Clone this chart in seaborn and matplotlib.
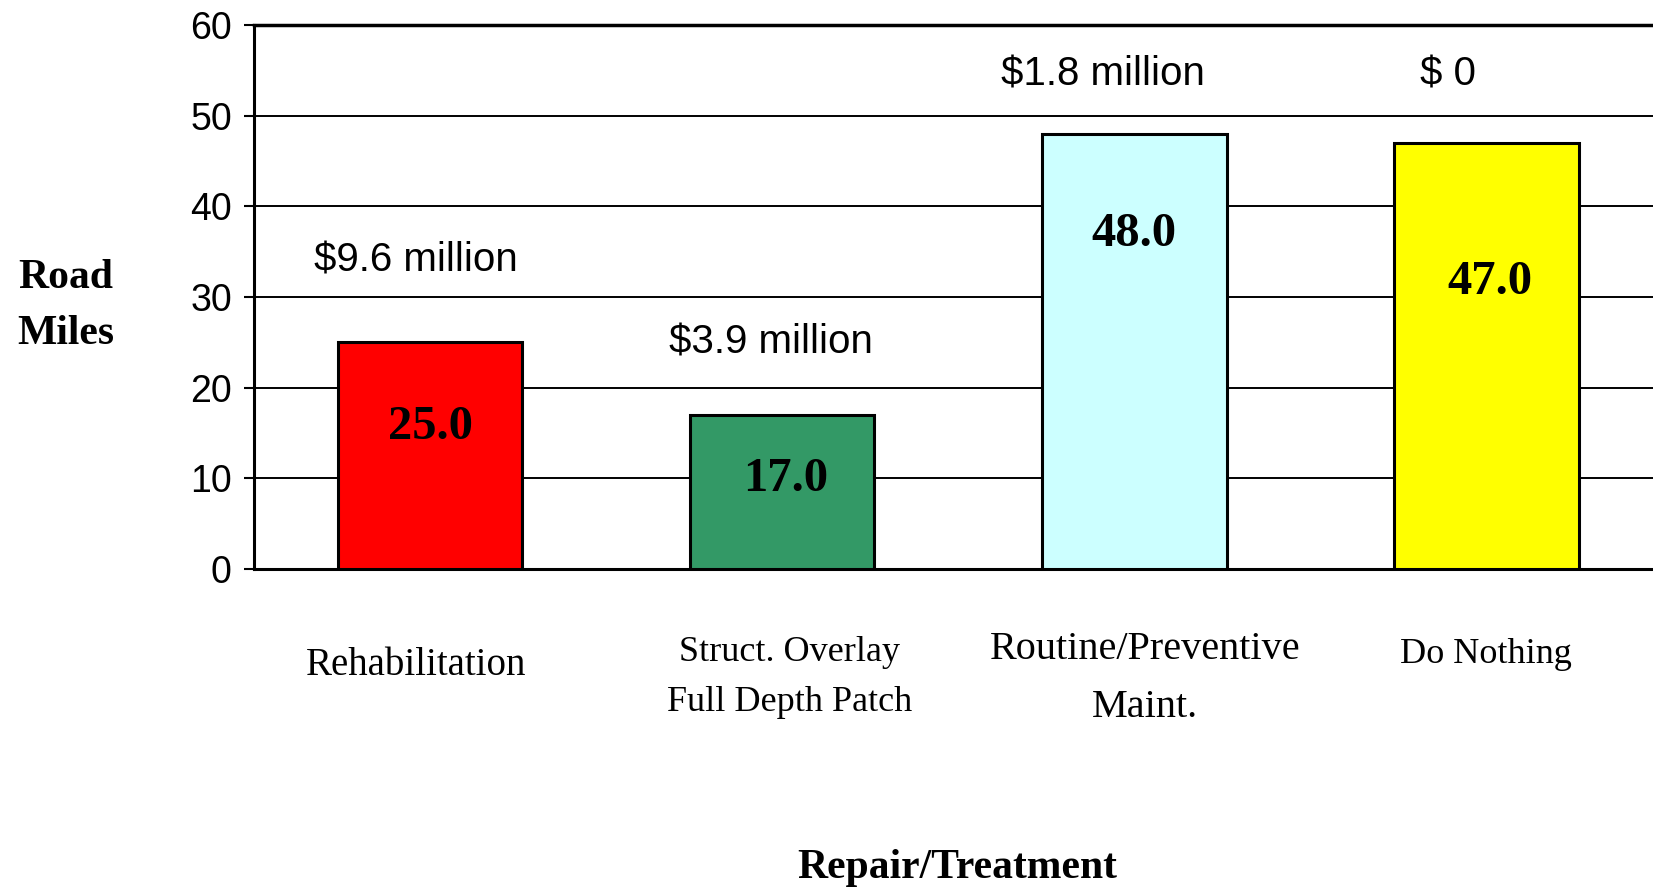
import matplotlib
matplotlib.use("Agg")
import matplotlib.pyplot as plt
import matplotlib.transforms as mtransforms
import seaborn as sns
import pandas as pd

# ---- data ----
categories = ["Rehabilitation", "Struct. Overlay\nFull Depth Patch",
              "Routine/Preventive\nMaint.", "Do Nothing"]
road_miles = [25.0, 17.0, 48.0, 47.0]
costs = ["$9.6 million", "$3.9 million", "$1.8 million", "$ 0"]
y_ticks = [0, 10, 20, 30, 40, 50, 60]
bar_colors = ["#FF0000", "#339966", "#CCFFFF", "#FFFF00"]

# ---- layout (positions / styles only) ----
cost_pos = [(-0.04, 34.0), (0.967, 25.0), (1.91, 54.6), (2.89, 54.6)]
value_pos = [(0.0, 15.7), (1.01, 9.9), (2.0, 37.0), (3.01, 31.7)]
# (x offset from category centre, fig y, fontsize, linespacing)
xlab_layout = [(-0.04, 0.2510, 28, 1.0), (0.02, 0.2370, 26, 1.70),
               (0.03, 0.2360, 29, 1.72), (0.0, 0.2635, 26, 1.0)]

sns.set_theme(style="white")
plt.rcParams['font.family'] = ['Liberation Sans', 'DejaVu Sans']
plt.rcParams['text.color'] = 'black'
plt.rcParams['axes.labelcolor'] = 'black'
plt.rcParams['xtick.color'] = 'black'
plt.rcParams['ytick.color'] = 'black'

df = pd.DataFrame({"cat": categories, "miles": road_miles})

fig = plt.figure(figsize=(16.53, 8.88), dpi=100)
ax = fig.add_axes([0.1537, 0.3592, 0.852, 0.6126])

sns.barplot(data=df, x="cat", y="miles", hue="cat", palette=bar_colors,
            legend=False, width=0.524, edgecolor="black", linewidth=2.2,
            saturation=1, ax=ax, zorder=3)

ax.set_xlim(-0.5, 3.5)
ax.set_ylim(0, 60)
ax.set_yticks(y_ticks)
ax.set_yticklabels([str(t) for t in y_ticks], fontsize=27,
                   family=['Liberation Sans'], color='black')
ax.tick_params(axis='y', which='both', left=True, length=7, width=1.5,
               color='black', pad=9)
ax.tick_params(axis='x', bottom=False, labelbottom=False)
ax.set_xlabel("")
ax.set_ylabel("")

ax.grid(axis='y', color='black', linewidth=1.4, zorder=0)
ax.set_axisbelow(True)
ax.spines['right'].set_visible(False)
ax.spines['top'].set_visible(True)
ax.spines['top'].set_linewidth(2.5)
ax.spines['top'].set_color('black')
ax.spines['left'].set_linewidth(2.2)
ax.spines['left'].set_color('black')
ax.spines['bottom'].set_linewidth(2.2)
ax.spines['bottom'].set_color('black')

# cost labels
for (x, y), c in zip(cost_pos, costs):
    ax.text(x, y, c, ha='center', va='center', fontsize=29,
            family=['Liberation Sans'], color='black', zorder=5)

# value labels
for (x, y), v in zip(value_pos, road_miles):
    ax.text(x, y, f"{v:.1f}", ha='center', va='center', fontsize=35,
            fontweight='bold', family=['Liberation Serif'], color='black',
            zorder=5)

# category labels below axis
trans = mtransforms.blended_transform_factory(ax.transData, fig.transFigure)
for i, (cat, (dx, yf, fs, ls)) in enumerate(zip(categories, xlab_layout)):
    ax.text(i + dx, yf, cat, ha='center', va='center',
            fontsize=fs, family=['Liberation Serif'], linespacing=ls,
            color='black', transform=trans, clip_on=False)

fig.text(0.579, 0.023, "Repair/Treatment", ha='center', va='center',
         fontsize=30, fontweight='bold', family=['Liberation Serif'],
         color='black')
fig.text(0.040, 0.655, "Road\nMiles", ha='center', va='center',
         fontsize=30, fontweight='bold', family=['Liberation Serif'],
         linespacing=1.62, color='black')

fig.savefig("out.png", dpi=100)
